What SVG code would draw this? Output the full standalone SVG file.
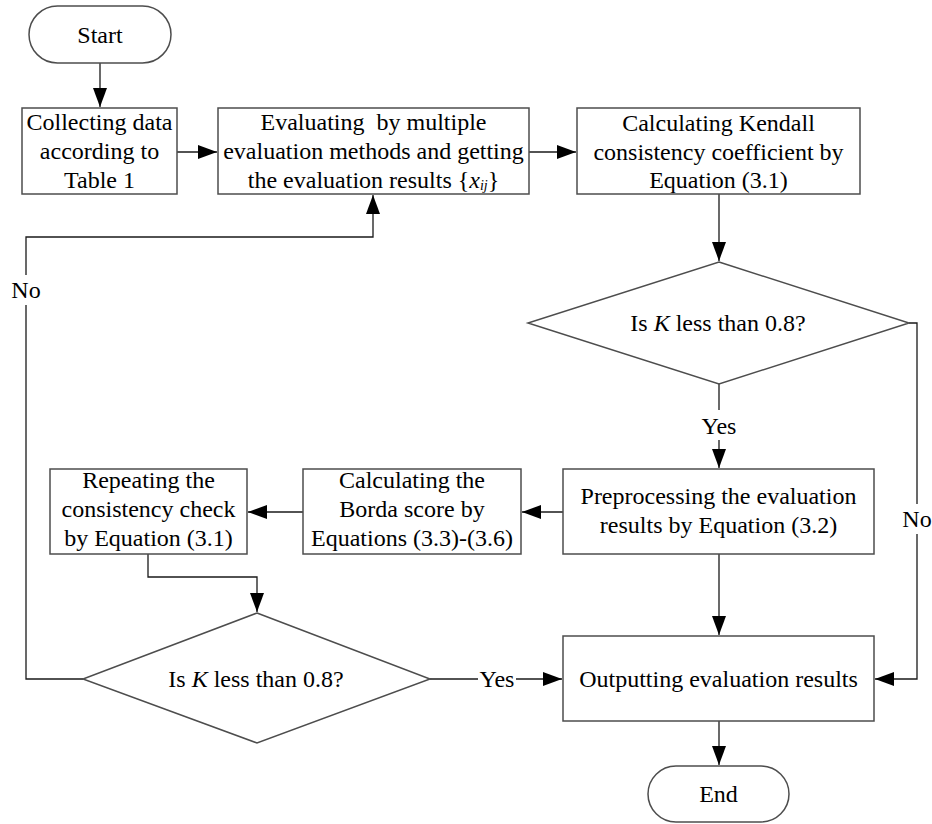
<svg xmlns="http://www.w3.org/2000/svg" width="932" height="824" viewBox="0 0 932 824">
<style>
.n{fill:#fff;stroke:#4d4d4d;stroke-width:1.5}
.t{font-family:"Liberation Serif",Tinos,"Times New Roman",Times,"DejaVu Serif",serif;font-size:24px;fill:#000;text-anchor:middle}
.c{fill:none;stroke:#1a1a1a;stroke-width:1.3}
</style>
<defs>
<marker id="ah" markerUnits="userSpaceOnUse" markerWidth="20" markerHeight="14" refX="19" refY="7" orient="auto">
<path d="M0,0 L19,7 L0,14 z" fill="#000"/>
</marker>
</defs>
<rect width="932" height="824" fill="#fff"/>
<g id="connectors">
<path class="c" d="M100,63 V107" marker-end="url(#ah)"/>
<path class="c" d="M177,152 H217" marker-end="url(#ah)"/>
<path class="c" d="M529,152 H576" marker-end="url(#ah)"/>
<path class="c" d="M719,194 V261" marker-end="url(#ah)"/>
<path class="c" d="M719,384 V468" marker-end="url(#ah)"/>
<path class="c" d="M909,323 H917 V679 H875" marker-end="url(#ah)"/>
<path class="c" d="M563,512 H522" marker-end="url(#ah)"/>
<path class="c" d="M303,512 H248" marker-end="url(#ah)"/>
<path class="c" d="M148,554 V577 H257 V612" marker-end="url(#ah)"/>
<path class="c" d="M430,679 H562" marker-end="url(#ah)"/>
<path class="c" d="M83,679 H26 V237 H373 V195" marker-end="url(#ah)"/>
<path class="c" d="M719,554 V635" marker-end="url(#ah)"/>
<path class="c" d="M719,721 V765" marker-end="url(#ah)"/>
<g id="labels">
<rect x="8" y="275" width="36" height="30" fill="#fff"/>
<text class="t" x="26" y="298">No</text>
<rect x="901" y="504" width="31" height="30" fill="#fff"/>
<text class="t" x="917" y="527">No</text>
<rect x="699" y="410" width="40" height="30" fill="#fff"/>
<text class="t" x="719" y="434">Yes</text>
<rect x="478" y="664" width="38" height="30" fill="#fff"/>
<text class="t" x="497" y="687">Yes</text>
</g>
</g>
<g id="start">
<rect class="n" x="29" y="6" width="142" height="57" rx="28.5"/>
<text class="t" x="100" y="43">Start</text>
</g>
<g id="collect">
<rect class="n" x="22" y="108" width="155" height="86"/>
<text class="t" x="99.5" y="130">Collecting data</text>
<text class="t" x="99.5" y="159">according to</text>
<text class="t" x="99.5" y="188">Table 1</text>
</g>
<g id="evaluate">
<rect class="n" x="218" y="108" width="311" height="86"/>
<text class="t" x="373.5" y="130" style="white-space:pre">Evaluating  by multiple</text>
<text class="t" x="373.5" y="159">evaluation methods and getting</text>
<text class="t" x="373.5" y="188">the evaluation results {<tspan font-style="italic">x</tspan><tspan font-style="italic" font-size="14" dy="2">ij</tspan><tspan dy="-2">}</tspan></text>
</g>
<g id="kendall">
<rect class="n" x="577" y="108" width="283" height="86"/>
<text class="t" x="718.5" y="131">Calculating Kendall</text>
<text class="t" x="718.5" y="160">consistency coefficient by</text>
<text class="t" x="718.5" y="188">Equation (3.1)</text>
</g>
<g id="decision1">
<polygon class="n" points="719,262 909,323 719,384 528,323"/>
<text class="t" x="718" y="331">Is <tspan font-style="italic">K</tspan> less than 0.8?</text>
</g>
<g id="preprocess">
<rect class="n" x="563" y="469" width="311" height="85"/>
<text class="t" x="718.5" y="503.5">Preprocessing the evaluation</text>
<text class="t" x="718.5" y="532.5">results by Equation (3.2)</text>
</g>
<g id="borda">
<rect class="n" x="303" y="469" width="218" height="85"/>
<text class="t" x="412" y="488">Calculating the</text>
<text class="t" x="412" y="517">Borda score by</text>
<text class="t" x="412" y="546">Equations (3.3)-(3.6)</text>
</g>
<g id="repeat">
<rect class="n" x="50" y="469" width="197" height="85"/>
<text class="t" x="148.5" y="488">Repeating the</text>
<text class="t" x="148.5" y="517">consistency check</text>
<text class="t" x="148.5" y="546">by Equation (3.1)</text>
</g>
<g id="decision2">
<polygon class="n" points="257,613 430,679 257,743 83,679"/>
<text class="t" x="256" y="687">Is <tspan font-style="italic">K</tspan> less than 0.8?</text>
</g>
<g id="output">
<rect class="n" x="563" y="636" width="311" height="85"/>
<text class="t" x="718.5" y="687">Outputting evaluation results</text>
</g>
<g id="end">
<rect class="n" x="648" y="766" width="141" height="56" rx="28"/>
<text class="t" x="718.5" y="802">End</text>
</g>
</svg>
